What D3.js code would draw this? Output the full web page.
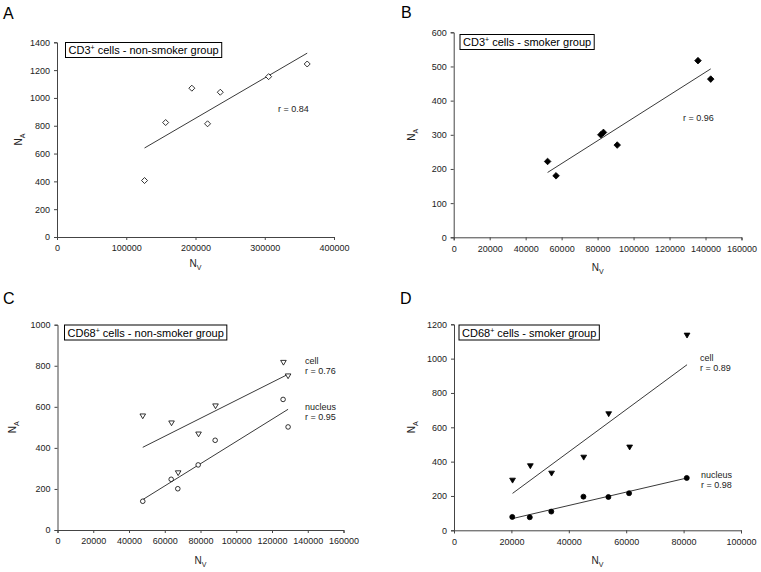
<!DOCTYPE html>
<html>
<head>
<meta charset="utf-8">
<script src="https://cdn.jsdelivr.net/npm/d3@7/dist/d3.min.js"></script>
<style>
  body { margin: 0; background: #fff; }
  svg { display: block; font-family: Arial, "Liberation Sans", sans-serif; }
</style>
</head>
<body>
<svg id="chart" width="761" height="572"></svg>
<script>
// ---------- DATA ----------
// Panel A: CD3+ non-smoker
const aNv = [126400, 156900, 194700, 217400, 235800, 305600, 361300];
const aNa = [406, 823, 1070, 814, 1041, 1153, 1244];
// Panel B: CD3+ smoker
const bNv = [52200, 56900, 81800, 83250, 90900, 135800, 142900];
const bNa = [222, 180, 300, 307, 270, 517, 463];
// Panel C: CD68+ non-smoker
const cCellNv = [47700, 63800, 67500, 78900, 88400, 126400, 129000];
const cCellNa = [555, 521, 278, 467, 604, 816, 750];
const cNucNv = [47700, 63600, 67300, 78700, 88200, 126200, 129000];
const cNucNa = [140, 247, 201, 317, 437, 636, 502];
// Panel D: CD68+ smoker
const dCellNv = [20400, 26600, 34000, 45200, 53900, 61200, 81200];
const dCellNa = [291, 375, 332, 425, 678, 484, 1136];
const dNucNv = [20300, 26400, 33900, 45100, 53800, 61000, 81100];
const dNucNa = [78, 76, 109, 196, 194, 216, 305];
// Tick values
const ticksA_x = [0, 100000, 200000, 300000, 400000];
const ticksA_y = [0, 200, 400, 600, 800, 1000, 1200, 1400];
const ticksB_x = [0, 20000, 40000, 60000, 80000, 100000, 120000, 140000, 160000];
const ticksB_y = [0, 100, 200, 300, 400, 500, 600];
const ticksC_x = [0, 20000, 40000, 60000, 80000, 100000, 120000, 140000, 160000];
const ticksC_y = [0, 200, 400, 600, 800, 1000];
const ticksD_x = [0, 20000, 40000, 60000, 80000, 100000];
const ticksD_y = [0, 200, 400, 600, 800, 1000, 1200];
// Labels
const panelLetters = ["A", "B", "C", "D"];
const titles = [
  ["CD3", "+", " cells - non-smoker group"],
  ["CD3", "+", " cells - smoker group"],
  ["CD68", "+", " cells - non-smoker group"],
  ["CD68", "+", " cells - smoker group"]
];

// ---------- DRAWING ----------
const svg = d3.select("#chart");

function markerPath(type, r) {
  if (type === "diamond") return `M0,${-r}L${r},0L0,${r}L${-r},0Z`;
  if (type === "tri") return `M${-r},${-r*0.75}L${r},${-r*0.75}L0,${r*0.95}Z`;
  return null;
}

function fit(xs, ys) {
  const n = xs.length;
  const mx = d3.mean(xs), my = d3.mean(ys);
  let sxy = 0, sxx = 0;
  for (let i = 0; i < n; i++) { sxy += (xs[i]-mx)*(ys[i]-my); sxx += (xs[i]-mx)**2; }
  const b = sxy / sxx, a = my - b*mx;
  const x0 = d3.min(xs), x1 = d3.max(xs);
  return [[x0, a + b*x0], [x1, a + b*x1]];
}

function panel(cfg) {
  const g = svg.append("g");
  const x = d3.scaleLinear().domain(cfg.xDomain).range(cfg.xRange);
  const y = d3.scaleLinear().domain(cfg.yDomain).range(cfg.yRange);
  const axisColor = "#444";

  // Axes
  const xa = g.append("g").attr("transform", `translate(0,${cfg.yRange[0]})`)
    .call(d3.axisBottom(x).tickValues(cfg.xTicks).tickSize(3).tickPadding(5).tickFormat(d3.format("d")));
  const ya = g.append("g").attr("transform", `translate(${cfg.xRange[0]},0)`)
    .call(d3.axisLeft(y).tickValues(cfg.yTicks).tickSize(3).tickPadding(4).tickFormat(d3.format("d")));
  [xa, ya].forEach(a => {
    a.select(".domain").attr("stroke", axisColor).attr("stroke-width", 1);
    a.selectAll(".tick line").attr("stroke", axisColor);
    a.selectAll("text").attr("font-size", 9).attr("fill", "#222").attr("font-family", "Arial, 'Liberation Sans', sans-serif");
  });

  // Axis titles
  const xt = g.append("text").attr("x", (cfg.xRange[0]+cfg.xRange[1])/2).attr("y", cfg.xTitleY)
    .attr("text-anchor", "middle").attr("font-size", 10).attr("fill", "#222");
  xt.append("tspan").text("N");
  xt.append("tspan").attr("font-size", 7).attr("dy", 3).text("V");
  const yc = (cfg.yRange[0]+cfg.yRange[1])/2;
  const yt = g.append("text").attr("transform", `translate(${cfg.yTitleX},${yc}) rotate(-90)`)
    .attr("text-anchor", "middle").attr("font-size", 10).attr("fill", "#222");
  yt.append("tspan").text("N");
  yt.append("tspan").attr("font-size", 7).attr("dy", 3).text("A");

  // Panel letter
  g.append("text").attr("x", cfg.letterX).attr("y", cfg.letterY).attr("font-size", 16)
    .attr("fill", "#000").text(cfg.letter);

  // Title box
  const tt = g.append("text").attr("x", cfg.boxX + 3).attr("y", cfg.boxY + 11.5).attr("font-size", 11).attr("fill", "#000");
  tt.append("tspan").text(cfg.title[0]);
  tt.append("tspan").attr("font-size", 7).attr("dy", -4).text(cfg.title[1]);
  tt.append("tspan").attr("dy", 4).text(cfg.title[2]);
  const w = tt.node().getComputedTextLength();
  g.append("rect").attr("x", cfg.boxX).attr("y", cfg.boxY).attr("width", w + 6).attr("height", 15)
    .attr("fill", "none").attr("stroke", "#000").attr("stroke-width", 1);

  // Series
  cfg.series.forEach(s => {
    const pts = s.xs.map((v, i) => [v, s.ys[i]]);
    const f = fit(s.xs, s.ys);
    g.append("line").attr("x1", x(f[0][0])).attr("y1", y(f[0][1])).attr("x2", x(f[1][0])).attr("y2", y(f[1][1]))
      .attr("stroke", "#222").attr("stroke-width", 0.9);
    pts.forEach(p => {
      if (s.marker === "circle") {
        g.append("circle").attr("cx", x(p[0])).attr("cy", y(p[1])).attr("r", s.r)
          .attr("fill", s.filled ? "#000" : "#fff").attr("stroke", "#000").attr("stroke-width", 0.8);
      } else {
        g.append("path").attr("d", markerPath(s.marker, s.r))
          .attr("transform", `translate(${x(p[0])},${y(p[1])})`)
          .attr("fill", s.filled ? "#000" : "#fff").attr("stroke", "#000").attr("stroke-width", 0.8);
      }
    });
  });

  // Annotations
  cfg.notes.forEach(n => {
    g.append("text").attr("x", n[0]).attr("y", n[1]).attr("font-size", 9).attr("fill", "#222").text(n[2]);
  });
}

panel({
  letter: panelLetters[0], letterX: 3, letterY: 19,
  xDomain: [0, 400000], xRange: [57, 334], yDomain: [0, 1400], yRange: [237, 42.3],
  xTicks: ticksA_x, yTicks: ticksA_y, xTitleY: 267, yTitleX: 22,
  boxX: 65.5, boxY: 42.5, title: titles[0],
  series: [{ xs: aNv, ys: aNa, marker: "diamond", r: 3, filled: false }],
  notes: [[278, 112, "r = 0.84"]]
});
panel({
  letter: panelLetters[1], letterX: 401, letterY: 18,
  xDomain: [0, 160000], xRange: [453.7, 741.5], yDomain: [0, 600], yRange: [237.3, 32.3],
  xTicks: ticksB_x, yTicks: ticksB_y, xTitleY: 271, yTitleX: 415,
  boxX: 460, boxY: 34.5, title: titles[1],
  series: [{ xs: bNv, ys: bNa, marker: "diamond", r: 3.3, filled: true }],
  notes: [[683, 121, "r = 0.96"]]
});
panel({
  letter: panelLetters[2], letterX: 3, letterY: 304,
  xDomain: [0, 160000], xRange: [57.5, 343.5], yDomain: [0, 1000], yRange: [530, 324.7],
  xTicks: ticksC_x, yTicks: ticksC_y, xTitleY: 564, yTitleX: 16,
  boxX: 64.5, boxY: 325, title: titles[2],
  series: [
    { xs: cCellNv, ys: cCellNa, marker: "tri", r: 2.8, filled: false },
    { xs: cNucNv, ys: cNucNa, marker: "circle", r: 2.3, filled: false }
  ],
  notes: [[305, 364, "cell"], [305, 374, "r = 0.76"], [305, 410, "nucleus"], [305, 420, "r = 0.95"]]
});
panel({
  letter: panelLetters[3], letterX: 400, letterY: 304,
  xDomain: [0, 100000], xRange: [454, 741], yDomain: [0, 1200], yRange: [530.3, 324.3],
  xTicks: ticksD_x, yTicks: ticksD_y, xTitleY: 564, yTitleX: 415,
  boxX: 459, boxY: 325, title: titles[3],
  series: [
    { xs: dCellNv, ys: dCellNa, marker: "tri", r: 2.9, filled: true },
    { xs: dNucNv, ys: dNucNa, marker: "circle", r: 2.5, filled: true }
  ],
  notes: [[700, 361, "cell"], [700, 371, "r = 0.89"], [701, 478, "nucleus"], [701, 488, "r = 0.98"]]
});
</script>
</body>
</html>
